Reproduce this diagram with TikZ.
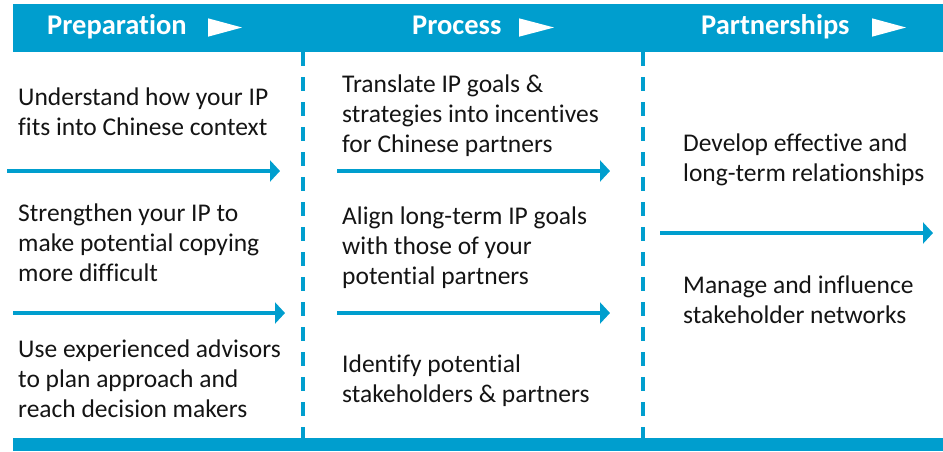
\documentclass[tikz,border=0pt]{standalone}
\usepackage{fontspec}
\setmainfont{Carlito}[Ligatures=NoCommon]
\usetikzlibrary{arrows.meta}
\definecolor{brandblue}{RGB}{0,158,206}
\definecolor{bodytext}{RGB}{20,20,20}
\tikzset{
  band/.style={fill=brandblue},
  headtext/.style={font=\fontsize{28.5}{34}\selectfont\bfseries, text=white, anchor=base west, inner sep=0pt},
  headtip/.style={fill=white},
  bodytext/.style={font=\fontsize{25.5}{30}\selectfont, text=bodytext, align=left, anchor=north west, inner sep=0pt},
  flow/.style={draw=brandblue, line width=4pt, -{Triangle[length=10pt,width=21pt]}},
  divider/.style={draw=brandblue, line width=4pt, dash pattern=on 14pt off 11pt}
}
\begin{document}
\begin{tikzpicture}[x=1pt, y=-1pt]
\useasboundingbox (0,0) rectangle (943,451);

% top and bottom bands
\fill[band] (13,4) rectangle (943,52);
\fill[band] (13,438) rectangle (943,451);

% column headings with their pointers
\node[headtext] (hprep) at (47,34) {Preparation};
\fill[headtip] (208,18.3) -- (208,36.7) -- (242,27.5) -- cycle;
\node[headtext] (hproc) at (412,34) {Process};
\fill[headtip] (519,18.3) -- (519,36.7) -- (554,27.5) -- cycle;
\node[headtext] (hpart) at (701,34) {Partnerships};
\fill[headtip] (872,18.3) -- (872,36.7) -- (906,27.5) -- cycle;

% dashed column dividers
\coordinate (d1top) at (303,52);
\coordinate (d1bot) at (303,438);
\coordinate (d2top) at (643,52);
\coordinate (d2bot) at (643,438);
\draw[divider] (d1top) -- (d1bot);
\draw[divider] (d2top) -- (d2bot);

% Preparation column
\node[bodytext] (p1) at (18,84) {\strut Understand how your IP\\fits into Chinese context};
\node[bodytext] (p2) at (18,200) {\strut Strengthen your IP to\\make potential copying\\more difficult};
\node[bodytext] (p3) at (18,336) {\strut Use experienced advisors\\to plan approach and\\reach decision makers};

% Process column
\node[bodytext] (q1) at (342,71) {\strut Translate IP goals \&\\strategies into incentives\\for Chinese partners};
\node[bodytext] (q2) at (342,203) {\strut Align long-term IP goals\\with those of your\\potential partners};
\node[bodytext] (q3) at (342,351) {\strut Identify potential\\stakeholders \& partners};

% Partnerships column
\node[bodytext] (r1) at (683,130) {\strut Develop effective and\\long-term relationships};
\node[bodytext] (r2) at (683,272) {\strut Manage and influence\\stakeholder networks};

% flow arrows
\coordinate (a1s) at (7,171);   \coordinate (a1e) at (280,171);
\coordinate (a2s) at (13,313);  \coordinate (a2e) at (285,313);
\coordinate (a3s) at (337,171); \coordinate (a3e) at (610,171);
\coordinate (a4s) at (337,313); \coordinate (a4e) at (610,313);
\coordinate (a5s) at (660,233); \coordinate (a5e) at (933,233);
\draw[flow] (a1s) -- (a1e);
\draw[flow] (a2s) -- (a2e);
\draw[flow] (a3s) -- (a3e);
\draw[flow] (a4s) -- (a4e);
\draw[flow] (a5s) -- (a5e);
\end{tikzpicture}
\end{document}
